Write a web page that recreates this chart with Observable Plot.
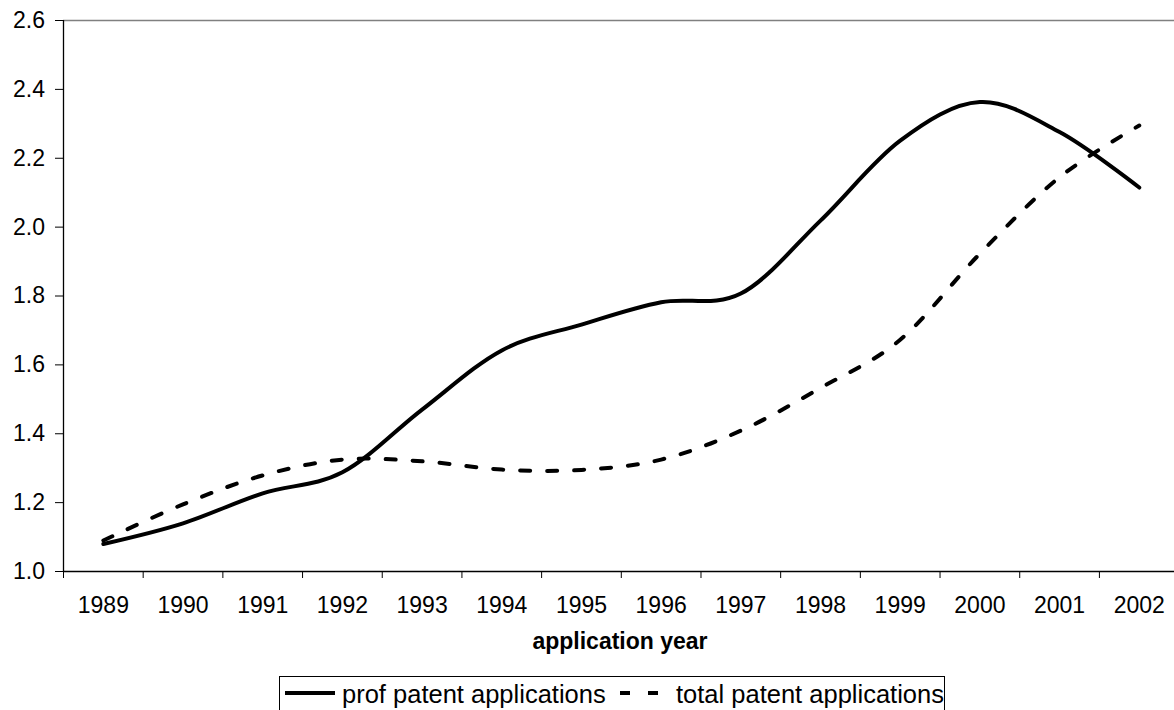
<!DOCTYPE html>
<html><head><meta charset="utf-8">
<script src="https://cdn.jsdelivr.net/npm/d3@7"></script>
<script src="https://cdn.jsdelivr.net/npm/@observablehq/plot@0.6"></script>
<style>
body{margin:0;background:#fff;font-family:"Liberation Sans",Arial,sans-serif;}
#chart svg{display:block}
</style>
</head><body><div id="chart"></div>
<script>
const years = [1989,1990,1991,1992,1993,1994,1995,1996,1997,1998,1999,2000,2001,2002];
const profValues = [1.08,1.14,1.227,1.288,1.47,1.642,1.717,1.782,1.807,2.019,2.251,2.363,2.276,2.115];
const totalValues = [1.09,1.195,1.279,1.325,1.320,1.296,1.295,1.325,1.409,1.533,1.673,1.923,2.145,2.295];
const yTicks = [1.0,1.2,1.4,1.6,1.8,2.0,2.2,2.4,2.6];
const seriesNames = ["prof patent applications","total patent applications"];
const xTitle = "application year";

const FONT = '"Liberation Sans", Arial, sans-serif';
const profData = years.map((yr,i)=>({year:yr, value:profValues[i], series:seriesNames[0]}));
const totalData = years.map((yr,i)=>({year:yr, value:totalValues[i], series:seriesNames[1]}));
const boundaries = years.map(y=>y-0.5).concat([years[years.length-1]+0.5]);

const plot = Plot.plot({
  width:1174, height:625,
  marginLeft:63, marginRight:0, marginTop:20, marginBottom:54,
  style:{fontFamily:FONT, fontSize:"23px", color:"#000", background:"#fff", overflow:"hidden"},
  x:{domain:[1988.5,2002.5], range:[63,1178.6]},
  y:{domain:[1,2.6], range:[571,20]},
  marks:[
    Plot.ruleY([2.6],{stroke:"#808080", strokeWidth:1.3}),
    Plot.ruleX([1988.5],{y1:1, y2:2.6, stroke:"#000", strokeWidth:1.3}),
    Plot.ruleY([1],{stroke:"#000", strokeWidth:1.3}),
    Plot.axisY({ticks:yTicks, tickSize:8, tickPadding:10.5, tickFormat:d3.format(".1f"), fontSize:23, label:null}),
    Plot.axisX({ticks:boundaries, tickSize:7, tickFormat:()=>"", label:null}),
    Plot.axisX({ticks:years, tickSize:0, tickPadding:25, tickFormat:d=>String(d), fontSize:23, label:null}),
    Plot.line(totalData,{x:"year", y:"value", curve:"cardinal", stroke:"#000", strokeWidth:4, strokeDasharray:"10,17"}),
    Plot.line(profData,{x:"year", y:"value", curve:"cardinal", stroke:"#000", strokeWidth:4})
  ]
});
document.getElementById("chart").appendChild(plot);

// title and legend below the plot
const below = d3.select("#chart").append("svg")
  .attr("width",1174).attr("height",85)
  .style("display","block")
  .style("font-family",FONT);
below.append("text").attr("x",620).attr("y",24).attr("text-anchor","middle")
  .attr("font-weight","bold").attr("font-size",23).attr("fill","#000").text(xTitle);
const lg = below.append("g");
lg.append("rect").attr("x",279.5).attr("y",51.5).attr("width",665).attr("height",40)
  .attr("fill","#fff").attr("stroke","#000").attr("stroke-width",1);
lg.append("line").attr("x1",285).attr("x2",335).attr("y1",68).attr("y2",68)
  .attr("stroke","#000").attr("stroke-width",4);
lg.append("text").attr("x",342).attr("y",78).attr("font-size",25.5).attr("fill","#000").text(seriesNames[0]);
lg.append("line").attr("x1",620).attr("x2",670).attr("y1",68).attr("y2",68)
  .attr("stroke","#000").attr("stroke-width",4).attr("stroke-dasharray","10,18");
lg.append("text").attr("x",676).attr("y",78).attr("font-size",25.5).attr("fill","#000").text(seriesNames[1]);
</script>
</body></html>
